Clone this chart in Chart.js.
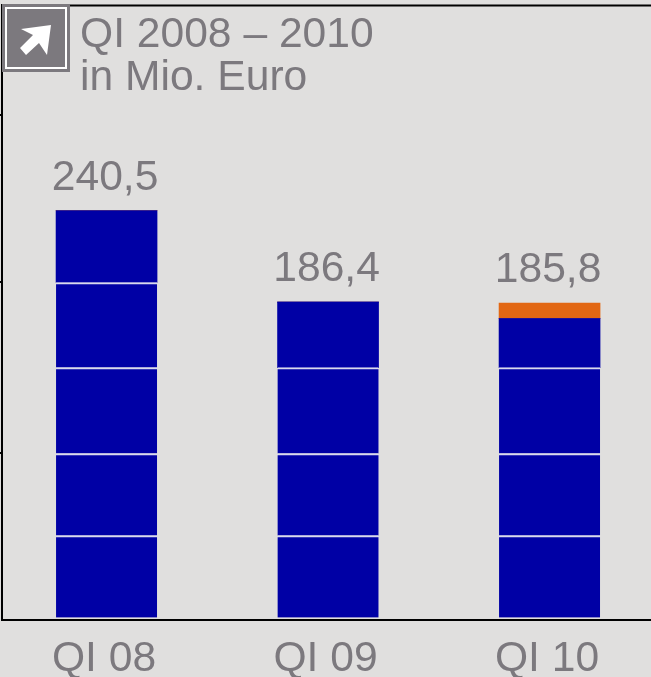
<!DOCTYPE html>
<html>
<head>
<meta charset="utf-8">
<script src="https://cdn.jsdelivr.net/npm/chart.js@4"></script>
<style>
  html, body { margin: 0; padding: 0; background: #e0dfde; overflow: hidden; }
  #wrap { width: 651px; height: 677px; }
</style>
</head>
<body>
<div id="wrap"><canvas id="grafico"></canvas></div>
<script>
const categories = ['QI 08', 'QI 09', 'QI 10'];
const totals = ['240,5', '186,4', '185,8'];
const titleLines = ['QI 2008 – 2010', 'in Mio. Euro'];
const yTicks = [97, 198, 297];

// Segmente von unten nach oben
const seg1 = [48.4, 48.4, 48.4];
const seg2 = [48.5, 48.5, 48.5];
const seg3 = [50.8, 50.8, 50.8];
const seg4 = [50.3, 38.7, 29.0];
const seg5 = [42.5, 0, 0];
const orange = [0, 0, 9.1];

const BLUE = '#0000a5';
const ORANGE = '#e26713';
const GREY = '#7c797e';
const FONT = '42.6px "Liberation Sans", Arial, sans-serif';

const toPoints = arr => arr.map((v, i) => ({ x: i, y: v }));

// Trennlinie oben am Segment, ausser beim obersten Segment der Saeule
const separator = ctx => {
  const next = ctx.chart.data.datasets[ctx.datasetIndex + 1];
  const hasMore = next && next.data[ctx.dataIndex].y > 0 && next.backgroundColor === BLUE;
  return { top: hasMore ? 2 : 0, right: 0, bottom: 0, left: 0 };
};

const mkDataset = (arr, color) => ({
  data: toPoints(arr),
  backgroundColor: color,
  borderColor: '#d9d9ee',
  borderWidth: separator,
  borderSkipped: false,
  barThickness: 101
});

// Titel, Pfeil-Icon, obere Linie und Summen ueber den Saeulen
const extras = {
  id: 'extras',
  afterDatasetsDraw(chart) {
    const { ctx, chartArea } = chart;
    ctx.save();

    ctx.fillStyle = '#000';
    ctx.fillRect(chartArea.left, 4.5, chartArea.right - chartArea.left, 2);

    ctx.fillStyle = GREY;
    ctx.fillRect(2, 4, 68, 68);
    ctx.strokeStyle = '#fff';
    ctx.lineWidth = 2;
    ctx.strokeRect(6, 8, 60, 60);
    ctx.fillStyle = '#fff';
    ctx.beginPath();
    [[21, 29], [51, 25], [47, 55], [39, 43], [26, 55], [20, 48], [33, 35]]
      .forEach((p, i) => i ? ctx.lineTo(p[0], p[1]) : ctx.moveTo(p[0], p[1]));
    ctx.closePath();
    ctx.fill();

    ctx.font = FONT;
    ctx.fillStyle = GREY;
    ctx.textAlign = 'left';
    ctx.textBaseline = 'alphabetic';
    ctx.fillText(titleLines[0], 80, 47);
    ctx.fillText(titleLines[1], 80, 90);

    ctx.textAlign = 'center';
    const metas = chart.data.datasets.map((d, i) => chart.getDatasetMeta(i));
    totals.forEach((t, i) => {
      const top = Math.min(...metas.map(m => m.data[i].y));
      ctx.fillText(t, metas[0].data[i].x - 1.5, top - 21);
    });
    ctx.restore();
  }
};

new Chart(document.getElementById('grafico'), {
  type: 'bar',
  data: {
    datasets: [
      mkDataset(seg1, BLUE),
      mkDataset(seg2, BLUE),
      mkDataset(seg3, BLUE),
      mkDataset(seg4, BLUE),
      mkDataset(seg5, BLUE),
      mkDataset(orange, ORANGE)
    ]
  },
  options: {
    responsive: true,
    maintainAspectRatio: false,
    animation: false,
    layout: { padding: { top: 5, left: 0, right: 0, bottom: 0 } },
    plugins: { legend: { display: false }, tooltip: { enabled: false } },
    scales: {
      x: {
        type: 'linear',
        offset: false,
        stacked: true,
        min: -0.472,
        max: 2.458,
        afterBuildTicks: scale => { scale.ticks = categories.map((c, i) => ({ value: i })); },
        afterFit: scale => { scale.height = 57; },
        grid: { display: false, offset: false },
        border: { color: '#000', width: 2 },
        ticks: {
          callback: v => categories[v],
          font: { family: '"Liberation Sans", Arial, sans-serif', size: 42.6 },
          color: GREY,
          padding: 6,
          labelOffset: -2.5,
          maxRotation: 0
        }
      },
      y: {
        stacked: true,
        min: -1.5,
        max: 362,
        afterBuildTicks: scale => { scale.ticks = yTicks.map(v => ({ value: v })); },
        afterFit: scale => { scale.width = 2; },
        border: { color: '#000', width: 2 },
        grid: { drawOnChartArea: false, drawTicks: true, tickLength: 3, color: '#000', lineWidth: 2 },
        ticks: { display: false }
      }
    }
  },
  plugins: [extras]
});
</script>
</body>
</html>
